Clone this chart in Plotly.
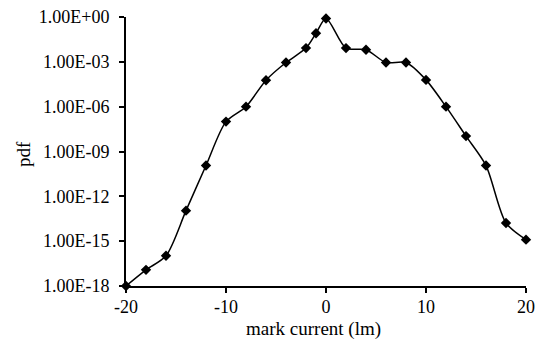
import plotly.graph_objects as go

# mark current (lm) and the probability density at each value
mark_current = [-20, -18, -16, -14, -12, -10, -8, -6, -4, -2, -1, 0,
                2, 4, 6, 8, 10, 12, 14, 16, 18, 20]
pdf_values = [1.0e-18, 1.2e-17, 1.05e-16, 1.1e-13, 1.15e-10, 1.0e-7, 1.0e-6,
              5.9e-5, 9.0e-4, 8.3e-3, 8.1e-2, 0.8,
              8.3e-3, 6.5e-3, 9.0e-4, 9.0e-4, 6.2e-5, 1.0e-6, 1.07e-8,
              1.15e-10, 1.65e-14, 1.26e-15]

y_tick_vals = [1e0, 1e-3, 1e-6, 1e-9, 1e-12, 1e-15, 1e-18]
y_tick_text = ["1.00E+00", "1.00E-03", "1.00E-06", "1.00E-09",
               "1.00E-12", "1.00E-15", "1.00E-18"]
x_tick_vals = [-20, -10, 0, 10, 20]

FONT = "Liberation Serif, Times New Roman, serif"

fig = go.Figure()
fig.add_trace(go.Scatter(
    x=mark_current,
    y=pdf_values,
    mode="lines+markers",
    line=dict(color="black", width=1.5, shape="spline", smoothing=0.8),
    marker=dict(symbol="diamond", size=8, color="black"),
    cliponaxis=False,
    showlegend=False,
))

fig.update_layout(
    width=539,
    height=341,
    margin=dict(l=126, r=13, t=17, b=55, autoexpand=False),
    paper_bgcolor="white",
    plot_bgcolor="white",
    font=dict(family=FONT, size=18, color="black"),
    xaxis=dict(
        range=[-20, 20],
        tickvals=x_tick_vals,
        ticktext=[str(v) for v in x_tick_vals],
        showgrid=False,
        zeroline=False,
        showline=True,
        linecolor="black",
        linewidth=2,
        ticks="outside",
        ticklen=5,
        tickwidth=2,
        tickcolor="black",
        tickfont=dict(family=FONT, size=18),
        ticklabelstandoff=-2,
        automargin=False,
    ),
    yaxis=dict(
        type="log",
        range=[-18, 0],
        tickvals=y_tick_vals,
        ticktext=y_tick_text,
        showgrid=False,
        zeroline=False,
        showline=True,
        linecolor="black",
        linewidth=2,
        ticks="outside",
        ticklen=5,
        tickwidth=2,
        tickcolor="black",
        tickfont=dict(family=FONT, size=18),
        ticklabelstandoff=6,
        automargin=False,
    ),
    annotations=[
        dict(text="mark current (lm)", xref="paper", yref="paper",
             x=0.4675, y=-0.16, xanchor="center", yanchor="middle",
             showarrow=False, font=dict(family=FONT, size=19)),
        dict(text="pdf", xref="paper", yref="paper",
             x=-0.258, y=0.49, xanchor="center", yanchor="middle",
             textangle=-90, showarrow=False, font=dict(family=FONT, size=19)),
    ],
)

fig.write_html("out.html")
